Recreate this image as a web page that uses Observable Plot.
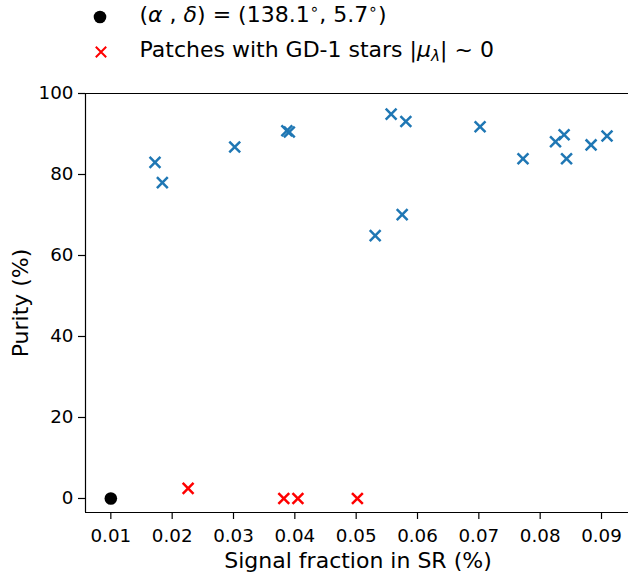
<!DOCTYPE html>
<html><head><meta charset="utf-8">
<script src="https://cdn.jsdelivr.net/npm/d3@7"></script>
<script src="https://cdn.jsdelivr.net/npm/@observablehq/plot@0.6"></script>
<style>
html,body{margin:0;padding:0;background:#fff;}
#wrap{position:relative;width:628px;height:577px;overflow:hidden;font-family:"DejaVu Sans",sans-serif;color:#000;}
#legend{position:relative;height:70px;}
.lsym{position:absolute;}
.ltext{position:absolute;left:139.5px;font-size:22px;line-height:24px;white-space:nowrap;}
.xlabel{position:absolute;left:358px;top:549px;transform:translateX(-50%);font-size:22px;white-space:nowrap;line-height:24px;}
.ylabel{position:absolute;left:20.7px;top:302.5px;transform:translate(-50%,-50%) rotate(-90deg);font-size:22px;white-space:nowrap;line-height:24px;}
sub{font-size:70%;vertical-align:-0.25em;line-height:0;}
sup{font-size:70%;vertical-align:0.55em;line-height:0;}
</style></head><body>
<div id="wrap">
  <div id="legend">
    <svg class="lsym" style="left:90px;top:7.3px" width="20" height="20"><circle cx="10" cy="10" r="6.3" fill="#000"/></svg>
    <div class="ltext" style="top:3.3px">(<i>α</i> , <i>δ</i>) = (138.1<sup>∘</sup>, 5.7<sup>∘</sup>)</div>
    <svg class="lsym" style="left:90.7px;top:41.7px" width="20" height="20"><path d="M4.8,4.8L15.2,15.2M4.8,15.2L15.2,4.8" stroke="#ff0000" stroke-width="2"/></svg>
    <div class="ltext" style="top:37.7px">Patches with GD-1 stars |<i>μ</i><sub><i>λ</i></sub>| ~ 0</div>
  </div>
  <div id="chart"></div>
  <div class="xlabel">Signal fraction in SR (%)</div>
  <div class="ylabel">Purity (%)</div>
</div>
<script>
// Blue patches
const signalFraction = [0.0172, 0.0184, 0.0302, 0.0387, 0.0391, 0.0531, 0.0557, 0.0575, 0.0581, 0.0702, 0.0772, 0.0825, 0.0839, 0.0843, 0.0883, 0.0909];
const purity = [83.0, 78.0, 86.8, 90.8, 90.5, 64.9, 94.9, 70.1, 93.1, 91.8, 83.9, 88.1, 89.8, 83.9, 87.3, 89.5];
// Red patches (GD-1 stars |mu_lambda| ~ 0)
const redFraction = [0.0226, 0.0382, 0.0405, 0.0502];
const redPurity = [2.5, 0, 0, 0];
// Reference point
const refFraction = [0.01];
const refPurity = [0];
// Ticks
const xTicks = [0.01, 0.02, 0.03, 0.04, 0.05, 0.06, 0.07, 0.08, 0.09];
const yTicks = [0, 20, 40, 60, 80, 100];
const xDomain = [0.00587, 0.0944];
const yDomain = [-3.46, 100];

const blue = signalFraction.map((x, i) => ({x, y: purity[i]}));
const red = redFraction.map((x, i) => ({x, y: redPurity[i]}));
const ref = refFraction.map((x, i) => ({x, y: refPurity[i]}));

const chart = Plot.plot({
  width: 628, height: 507,
  marginTop: 23, marginBottom: 65, marginLeft: 85, marginRight: 0,
  style: {fontFamily: "DejaVu Sans, sans-serif", fontSize: "18.3px", color: "#000", background: "#fff", overflow: "visible"},
  x: {domain: xDomain},
  y: {domain: yDomain},
  marks: [
    Plot.axisX({ticks: xTicks, tickFormat: d3.format(".2f"), tickSize: 7, tickPadding: 9.5, label: null, fontSize: 18.3, strokeWidth: 1.2}),
    Plot.axisY({ticks: yTicks, tickFormat: d3.format("d"), tickSize: 7, tickPadding: 5, label: null, fontSize: 18.3, strokeWidth: 1.2}),
    Plot.ruleY([yDomain[1]], {stroke: "#000", strokeWidth: 1.2}),
    Plot.ruleY([yDomain[0]], {stroke: "#000", strokeWidth: 1.2}),
    Plot.ruleX([xDomain[0]], {stroke: "#000", strokeWidth: 1.2}),
    Plot.dot(blue, {x: "x", y: "y", symbol: "times", r: 5, stroke: "#1f77b4", strokeWidth: 2.5}),
    Plot.dot(red, {x: "x", y: "y", symbol: "times", r: 5, stroke: "#ff0000", strokeWidth: 2.5}),
    Plot.dot(ref, {x: "x", y: "y", r: 6.3, fill: "#000", stroke: "none"})
  ]
});
document.getElementById("chart").appendChild(chart);
</script>
</body></html>
